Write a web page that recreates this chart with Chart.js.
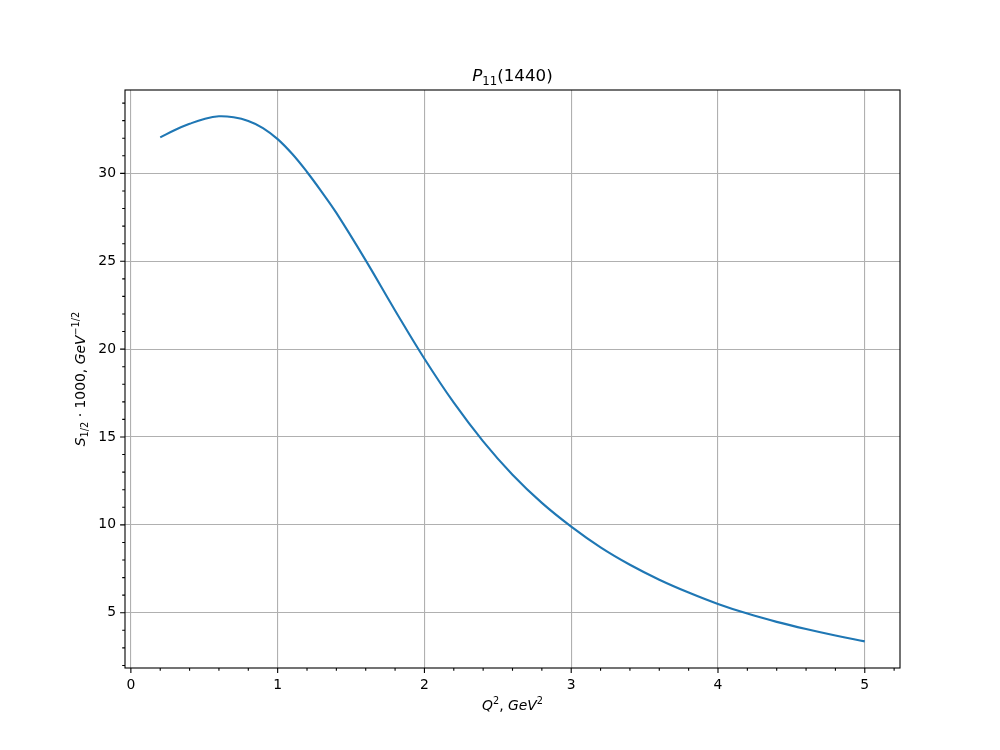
<!DOCTYPE html>
<html>
<head>
<meta charset="utf-8">
<script src="https://cdn.jsdelivr.net/npm/chart.js@4.4.1/dist/chart.umd.min.js"></script>
<style>
  body { margin: 0; background: #fff; }
  canvas { display: block; }
</style>
</head>
<body>
<canvas id="chart" width="1000" height="750"></canvas>
<script>
// Q^2 values (GeV^2) and S1/2 * 1000 values
const q2 = [0.2, 0.3, 0.4, 0.5, 0.6, 0.7, 0.8, 0.9, 1.0, 1.1, 1.2, 1.3, 1.4, 1.6, 1.8, 2.0,
            2.2, 2.4, 2.6, 2.8, 3.0, 3.2, 3.4, 3.6, 3.8, 4.0, 4.2, 4.4, 4.6, 4.8, 5.0];
const s12 = [32.05, 32.47, 32.82, 33.1, 33.25, 33.19, 32.98, 32.58, 31.95, 31.1, 30.08, 28.95, 27.75, 25.05, 22.2, 19.45,
             16.95, 14.75, 12.85, 11.25, 9.9, 8.72, 7.73, 6.88, 6.15, 5.5, 4.95, 4.48, 4.07, 3.7, 3.37];
const xTicks = [0, 1, 2, 3, 4, 5];
const yTicks = [5, 10, 15, 20, 25, 30];

const FONT = "'DejaVu Sans', sans-serif";

// draw a run of text pieces (italic / sub / sup), centred on (cx, cy baseline)
function drawRich(ctx, parts, cx, cy, size) {
  const pieces = parts.map(p => {
    const s = p.shift ? size * 0.7 : size;
    const f = (p.it ? 'italic ' : '') + s + 'px ' + FONT;
    ctx.font = f;
    return { ...p, f, w: ctx.measureText(p.t).width };
  });
  const total = pieces.reduce((a, p) => a + p.w, 0);
  let x = cx - total / 2;
  ctx.textAlign = 'left';
  ctx.textBaseline = 'alphabetic';
  ctx.fillStyle = '#000';
  pieces.forEach(p => {
    ctx.font = p.f;
    let y = cy;
    if (p.shift === 'sub') y += size * 0.22;
    if (p.shift === 'sup') y -= size * 0.4;
    ctx.fillText(p.t, x, y);
    x += p.w;
  });
}

const decorPlugin = {
  id: 'decor',
  afterDraw(chart) {
    const ctx = chart.ctx;
    const a = chart.chartArea;
    const xs = chart.scales.x, ys = chart.scales.y;
    ctx.save();
    ctx.strokeStyle = '#000';
    ctx.lineWidth = 1.1;
    ctx.strokeRect(a.left, a.top, a.right - a.left, a.bottom - a.top);
    // major and minor ticks
    ctx.beginPath();
    for (let i = 0; i <= 26; i++) {
      const v = i * 0.2;
      const px = xs.getPixelForValue(v);
      if (px < a.left || px > a.right) continue;
      const len = (i % 5 === 0) ? 4.9 : 2.8;
      ctx.moveTo(px, a.bottom);
      ctx.lineTo(px, a.bottom + len);
    }
    for (let v = 2; v <= 34; v++) {
      const py = ys.getPixelForValue(v);
      const len = (v % 5 === 0) ? 4.9 : 2.8;
      ctx.moveTo(a.left, py);
      ctx.lineTo(a.left - len, py);
    }
    ctx.stroke();

    const cx = (a.left + a.right) / 2;
    drawRich(ctx, [
      { t: 'P', it: true }, { t: '11', shift: 'sub' }, { t: '(1440)' }
    ], cx, 81, 16.7);
    drawRich(ctx, [
      { t: 'Q', it: true }, { t: '2', shift: 'sup' }, { t: ', ' },
      { t: 'GeV', it: true }, { t: '2', shift: 'sup' }
    ], cx, 710, 13.9);
    ctx.translate(85, (a.top + a.bottom) / 2);
    ctx.rotate(-Math.PI / 2);
    drawRich(ctx, [
      { t: 'S', it: true }, { t: '1/2', shift: 'sub' }, { t: ' \u00b7 1000, ' },
      { t: 'GeV', it: true }, { t: '\u22121/2', shift: 'sup' }
    ], 0, 0, 13.9);
    ctx.restore();
  }
};

new Chart(document.getElementById('chart'), {
  type: 'line',
  data: {
    datasets: [{
      data: q2.map((x, i) => ({ x: x, y: s12[i] })),
      borderColor: '#1f77b4',
      borderWidth: 2.1,
      pointRadius: 0,
      fill: false,
      tension: 0.4
    }]
  },
  options: {
    responsive: false,
    devicePixelRatio: 1,
    animation: false,
    layout: { padding: { left: 0, top: 90, right: 100, bottom: 0 } },
    plugins: { legend: { display: false }, tooltip: { enabled: false } },
    scales: {
      x: {
        type: 'linear',
        min: -0.04,
        max: 5.24,
        afterFit(scale) { scale.height = 82; },
        afterBuildTicks(scale) { scale.ticks = xTicks.map(v => ({ value: v })); },
        grid: { color: '#b0b0b0', lineWidth: 1.1, drawTicks: false },
        border: { display: false },
        ticks: { color: '#000', font: { family: FONT, size: 13.9 }, padding: 9, maxRotation: 0 }
      },
      y: {
        type: 'linear',
        min: 1.855,
        max: 34.745,
        afterFit(scale) { scale.width = 125; },
        afterBuildTicks(scale) { scale.ticks = yTicks.map(v => ({ value: v })); },
        grid: { color: '#b0b0b0', lineWidth: 1.1, drawTicks: false },
        border: { display: false },
        ticks: { color: '#000', font: { family: FONT, size: 13.9 }, padding: 9 }
      }
    }
  },
  plugins: [decorPlugin]
});
</script>
</body>
</html>
